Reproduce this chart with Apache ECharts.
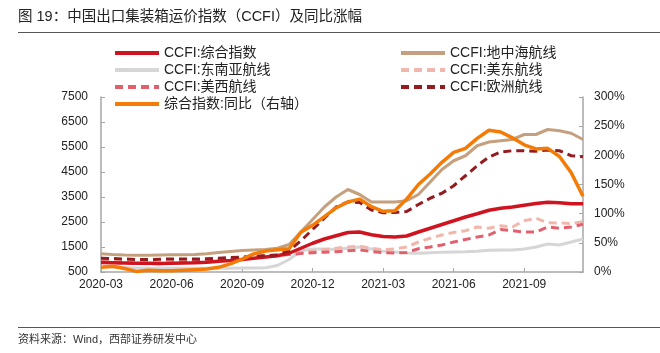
<!DOCTYPE html>
<html>
<head>
<meta charset="utf-8">
<script src="https://cdn.jsdelivr.net/npm/echarts@6/dist/echarts.min.js"></script>
<style>
  html, body { margin: 0; padding: 0; background: #fff; }
  #chart { width: 660px; height: 353px; }
</style>
</head>
<body>
<div id="chart"></div>
<script>
// 半月一个点，2020-03 到 2021-11
var dates = [
  '2020-03-01','2020-03-16','2020-04-01','2020-04-16','2020-05-01','2020-05-16',
  '2020-06-01','2020-06-16','2020-07-01','2020-07-16','2020-08-01','2020-08-16',
  '2020-09-01','2020-09-16','2020-10-01','2020-10-16','2020-11-01','2020-11-16',
  '2020-12-01','2020-12-16','2021-01-01','2021-01-16','2021-02-01','2021-02-16',
  '2021-03-01','2021-03-16','2021-04-01','2021-04-16','2021-05-01','2021-05-16',
  '2021-06-01','2021-06-16','2021-07-01','2021-07-16','2021-08-01','2021-08-16',
  '2021-09-01','2021-09-16','2021-10-01','2021-10-16','2021-11-01','2021-11-16'
];
// CCFI:综合指数
var ccfiAll = [880,870,860,850,850,840,850,860,870,890,930,960,1000,1050,1100,1150,1250,1450,1650,1820,1950,2080,2100,1990,
  1920,1900,1940,2100,2250,2400,2550,2700,2830,2970,3050,3100,3170,3240,3290,3270,3230,3230];
// CCFI:地中海航线
var ccfiMed = [1230,1200,1180,1170,1170,1180,1190,1190,1200,1230,1280,1320,1360,1380,1400,1450,1600,2100,2600,3100,3500,3800,3600,3300,
  3300,3300,3350,3600,4100,4600,4950,5150,5550,5700,5750,5800,6000,6000,6200,6150,6050,5800];
// CCFI:东南亚航线
var ccfiSea = [700,690,680,660,650,650,650,650,650,650,650,650,660,660,670,760,1000,1350,1420,1420,1400,1450,1500,1420,
  1330,1300,1260,1250,1270,1290,1300,1310,1330,1370,1380,1380,1420,1500,1620,1580,1700,1820];
// CCFI:美东航线
var ccfiUsEast = [950,940,930,920,910,910,920,930,950,980,1000,1030,1050,1080,1110,1150,1200,1280,1340,1400,1450,1500,1530,1450,
  1390,1420,1500,1700,1850,1980,2080,2150,2300,2250,2350,2300,2550,2650,2470,2460,2440,2510];
// CCFI:美西航线
var ccfiUsWest = [900,880,860,840,830,830,850,880,920,960,1000,1040,1080,1120,1150,1180,1200,1240,1270,1290,1310,1350,1380,1320,
  1270,1260,1280,1430,1500,1580,1700,1800,1900,1980,2200,2150,2100,2100,2300,2250,2300,2410];
// CCFI:欧洲航线
var ccfiEurope = [1050,1040,1020,1000,1000,1010,1020,1020,1020,1030,1050,1080,1100,1120,1150,1180,1350,1750,2200,2650,3100,3300,3280,2980,
  2870,2880,2920,3200,3450,3650,3950,4350,4750,5100,5300,5350,5350,5330,5380,5350,5150,5110];
// 综合指数:同比（右轴），%
var ccfiYoy = [8,10,6,1,3,2,2,3,4,5,8,14,22,31,36,38,40,68,80,95,110,120,125,112,
  104,105,125,150,168,188,205,212,229,243,240,230,218,211,212,198,170,130];

var leftTicks = { min: 500, max: 7500, step: 1000 };
var rightTicks = { min: 0, max: 300, step: 50 };

var chart = echarts.init(document.getElementById('chart'));
var fontMix = '"Liberation Sans", "Noto Sans CJK SC", sans-serif';
var axisGray = '#A6A6A6';

function lineSeries(name, data, color, width, dashed, yIndex, z) {
  return {
    name: name,
    type: 'line',
    yAxisIndex: yIndex || 0,
    data: data,
    showSymbol: false,
    symbol: 'none',
    z: z || 2,
    itemStyle: { color: color },
    lineStyle: { color: color, width: width, type: dashed ? [8, 5] : 'solid' }
  };
}

var legendBase = {
  top: 41, orient: 'vertical', itemGap: 3,
  itemWidth: 44, itemHeight: 13.5,
  itemStyle: { opacity: 0 },
  lineStyle: { width: 4 },
  textStyle: { fontSize: 14, color: '#222', fontFamily: fontMix }
};

var option = {
  animation: false,
  textStyle: { fontFamily: fontMix },
  grid: { left: 101, right: 77, top: 97, bottom: 81 },
  graphic: [
    { type: 'text', left: 18, top: 10, style: { text: '图 19：中国出口集装箱运价指数（CCFI）及同比涨幅', font: '14.5px ' + fontMix, fill: '#222' } },
    { type: 'line', shape: { x1: 18, y1: 32.5, x2: 660, y2: 32.5 }, style: { stroke: '#555', lineWidth: 1 } },
    { type: 'line', shape: { x1: 18, y1: 327.5, x2: 660, y2: 327.5 }, style: { stroke: '#555', lineWidth: 1 } },
    { type: 'text', left: 18, top: 334, style: { text: '资料来源：Wind，西部证券研发中心', font: '11px ' + fontMix, fill: '#333' } }
  ],
  legend: [
    Object.assign({}, legendBase, {
      left: 108,
      data: ['CCFI:综合指数', 'CCFI:东南亚航线', 'CCFI:美西航线', '综合指数:同比（右轴）']
    }),
    Object.assign({}, legendBase, {
      left: 394,
      data: ['CCFI:地中海航线', 'CCFI:美东航线', 'CCFI:欧洲航线']
    })
  ],
  xAxis: {
    type: 'category',
    data: dates,
    boundaryGap: false,
    axisLine: { lineStyle: { color: axisGray, width: 1.5 } },
    axisTick: { inside: true, length: 4, interval: 5, lineStyle: { color: axisGray } },
    axisLabel: {
      interval: 5, color: '#222', fontSize: 12, fontFamily: fontMix, margin: 7,
      formatter: function (v) { return v.slice(0, 7); }
    },
    splitLine: { show: false }
  },
  yAxis: [
    {
      type: 'value', min: leftTicks.min, max: leftTicks.max, interval: leftTicks.step,
      axisLine: { show: true, lineStyle: { color: axisGray, width: 1.5 } },
      axisTick: { show: true, inside: true, length: 4, lineStyle: { color: axisGray } },
      axisLabel: { color: '#222', fontSize: 12, fontFamily: fontMix, margin: 13, formatter: function (v) { return String(v); } },
      splitLine: { show: false }
    },
    {
      type: 'value', min: rightTicks.min, max: rightTicks.max, interval: rightTicks.step,
      position: 'right',
      axisLine: { show: true, lineStyle: { color: axisGray, width: 1.5 } },
      axisTick: { show: true, inside: true, length: 4, lineStyle: { color: axisGray } },
      axisLabel: { color: '#222', fontSize: 12, fontFamily: fontMix, margin: 11, formatter: '{value}%' },
      splitLine: { show: false }
    }
  ],
  series: [
    lineSeries('CCFI:东南亚航线', ccfiSea, '#D6D6D6', 3, false, 0, 2),
    lineSeries('CCFI:美东航线', ccfiUsEast, '#F2B7AC', 3, true, 0, 2),
    lineSeries('CCFI:美西航线', ccfiUsWest, '#E2606E', 3, true, 0, 3),
    lineSeries('CCFI:综合指数', ccfiAll, '#D0141F', 3.5, false, 0, 4),
    lineSeries('CCFI:地中海航线', ccfiMed, '#C4A07F', 3, false, 0, 4),
    lineSeries('CCFI:欧洲航线', ccfiEurope, '#941B1F', 3, true, 0, 5),
    lineSeries('综合指数:同比（右轴）', ccfiYoy, '#F47C06', 3.5, false, 1, 6)
  ]
};
chart.setOption(option);
</script>
</body>
</html>
